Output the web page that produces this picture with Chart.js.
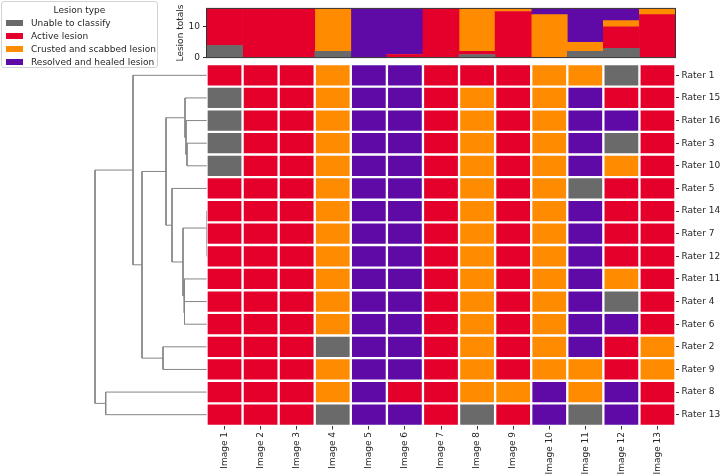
<!DOCTYPE html>
<html>
<head>
<meta charset="utf-8">
<script src="https://cdn.jsdelivr.net/npm/chart.js@4/dist/chart.umd.min.js"></script>
<style>
  html, body { margin: 0; padding: 0; background: #ffffff; overflow: hidden; }
  #wrap { position: relative; width: 720px; height: 474px; font-family: 'DejaVu Sans', sans-serif; }
  canvas { position: absolute; left: 0; top: 0; }
  #legend {
    position: absolute; left: 1px; top: 1px; width: 155px; height: 65px;
    border: 1px solid #d3d3d3; border-radius: 3px; background: rgba(255,255,255,0.85);
    font-size: 9px; color: #262626;
  }
  #legend .title { position: absolute; left: 0; width: 100%; top: 2px; text-align: center; line-height: 12px; }
  #legend .item { position: absolute; left: 0; height: 12px; line-height: 12px; white-space: nowrap; }
  #legend .sw { position: absolute; left: 4px; top: 3px; width: 17px; height: 6px; }
  #legend .tx { position: absolute; left: 29px; top: 0; }
</style>
</head>
<body>
<div id="wrap">
  <canvas id="dendro" width="215" height="474"></canvas>
  <canvas id="heat" width="720" height="474"></canvas>
  <canvas id="totals" width="720" height="66"></canvas>
  <div id="legend"></div>
</div>
<script>
// ---------------- data ----------------
const images = ['Image 1','Image 2','Image 3','Image 4','Image 5','Image 6','Image 7',
                'Image 8','Image 9','Image 10','Image 11','Image 12','Image 13'];
const raters = ['Rater 1','Rater 15','Rater 16','Rater 3','Rater 10','Rater 5','Rater 14','Rater 7',
                'Rater 12','Rater 11','Rater 4','Rater 6','Rater 2','Rater 9','Rater 8','Rater 13'];
const lesionTypes = ['Unable to classify','Active lesion','Crusted and scabbed lesion','Resolved and healed lesion'];
const typeColors = ['#6a6a6a','#e4002b','#ff8c00','#5f0aa6'];

// rating codes: 0 unable, 1 active, 2 crusted, 3 resolved (rows follow `raters`)
const ratings = [
  [1,1,1,2,3,3,1,1,1,2,2,0,1],
  [0,1,1,2,3,3,1,2,1,2,3,1,1],
  [0,1,1,2,3,3,1,2,1,2,3,3,1],
  [0,1,1,2,3,3,1,2,1,2,3,0,1],
  [0,1,1,2,3,3,1,2,1,2,3,2,1],
  [1,1,1,2,3,3,1,2,1,2,0,1,1],
  [1,1,1,2,3,3,1,2,1,2,3,1,1],
  [1,1,1,2,3,3,1,2,1,2,3,1,1],
  [1,1,1,2,3,3,1,2,1,2,3,1,1],
  [1,1,1,2,3,3,1,2,1,2,3,2,1],
  [1,1,1,2,3,3,1,2,1,2,3,0,1],
  [1,1,1,2,3,3,1,2,1,2,3,3,1],
  [1,1,1,0,3,3,1,2,1,2,3,1,2],
  [1,1,1,2,3,3,1,2,1,2,2,1,2],
  [1,1,1,2,3,1,1,2,2,3,2,3,1],
  [1,1,1,0,3,3,1,0,1,3,0,3,1]
];

// lesion totals per image
const totalsUnable   = [4,0,0,2,0,0,0,1,0,0,2,3,0];
const totalsActive   = [12,16,16,0,0,1,16,1,15,0,0,7,14];
const totalsCrusted  = [0,0,0,14,0,0,0,14,1,14,3,2,2];
const totalsResolved = [0,0,0,0,16,15,0,0,0,2,11,4,0];
const totalTicks = [0, 10];

// dendrogram linkage (leaf ids = row positions 0..15, cluster ids 16+)
const linkA      = [3, 2, 1, 7, 6, 10, 9, 20, 5, 18, 12, 25, 0, 14, 28];
const linkB      = [4, 16, 17, 8, 19, 11, 21, 22, 23, 24, 13, 26, 27, 15, 29];
const linkHeight = [0.20, 0.21, 0.22, 0.0, 0.003, 0.225, 0.23, 0.24, 0.35, 0.41, 0.44, 0.65, 0.74, 1.013, 1.12];

// ---------------- setup ----------------
Chart.defaults.font.family = "'DejaVu Sans', sans-serif";
Chart.defaults.font.size = 9;
Chart.defaults.color = '#262626';

// legend (HTML)
const lg = document.getElementById('legend');
lg.innerHTML = '<div class="title">Lesion type</div>' + lesionTypes.map((t, i) =>
  `<div class="item" style="top:${15 + i * 13.1}px"><span class="sw" style="background:${typeColors[i]}"></span><span class="tx">${t}</span></div>`
).join('');

// ---------------- dendrogram ----------------
const nodeY = [], nodeH = [];
raters.forEach((r, i) => { nodeY[i] = i + 0.5; nodeH[i] = 0; });
const dendroSets = [];
linkA.forEach((a, k) => {
  const b = linkB[k], h = linkHeight[k];
  dendroSets.push({
    data: [{x: nodeH[a], y: nodeY[a]}, {x: h, y: nodeY[a]}, {x: h, y: nodeY[b]}, {x: nodeH[b], y: nodeY[b]}],
    showLine: true, pointRadius: 0, borderColor: '#858585', borderWidth: 1, tension: 0, clip: false
  });
  nodeY[raters.length + k] = (nodeY[a] + nodeY[b]) / 2;
  nodeH[raters.length + k] = h;
});
new Chart(document.getElementById('dendro'), {
  type: 'scatter',
  data: { datasets: dendroSets },
  options: {
    responsive: false, animation: false, devicePixelRatio: 1,
    layout: { padding: { left: 0, right: 8, top: 64, bottom: 48 } },
    plugins: { legend: { display: false }, tooltip: { enabled: false } },
    scales: {
      x: { type: 'linear', min: 0, max: 2.07, reverse: true, display: false },
      y: { type: 'linear', min: 0, max: 16, reverse: true, display: false }
    }
  }
});

// ---------------- heatmap ----------------
new Chart(document.getElementById('heat'), {
  type: 'bar',
  data: {
    labels: images,
    datasets: raters.map((r, i) => ({
      label: r,
      data: images.map(() => 1),
      backgroundColor: ratings[i].map(c => typeColors[c]),
      borderColor: '#ffffff', borderWidth: 1.5, borderSkipped: false,
      barPercentage: 1, categoryPercentage: 1
    }))
  },
  options: {
    responsive: false, animation: false, devicePixelRatio: 1,
    layout: { padding: { left: 206.5, top: 64, right: 0, bottom: 0 } },
    plugins: { legend: { display: false }, tooltip: { enabled: false } },
    scales: {
      x: {
        stacked: true,
        grid: { display: true, drawOnChartArea: false, drawTicks: true, tickLength: 3.5, color: '#333333', offset: false },
        border: { display: false },
        ticks: { minRotation: 90, maxRotation: 90, padding: 2.5, autoSkip: false },
        afterFit: s => { s.height = 48; }
      },
      y: {
        stacked: true, position: 'right', min: 0, max: 16, reverse: true,
        afterBuildTicks: s => { s.ticks = raters.map((r, i) => ({ value: i + 0.5 })); },
        ticks: { callback: (v, i) => raters[i], padding: 2.5, autoSkip: false },
        grid: { display: true, drawOnChartArea: false, drawTicks: true, tickLength: 3.5, color: '#333333' },
        border: { display: false },
        afterFit: s => { s.width = 44.5; }
      }
    }
  }
});

// ---------------- totals (stacked bars) ----------------
const framePlugin = {
  id: 'frame',
  afterDraw(chart) {
    const {ctx, chartArea: a} = chart;
    ctx.save();
    ctx.strokeStyle = '#333333';
    ctx.lineWidth = 1;
    ctx.strokeRect(a.left, a.top, a.right - a.left, a.bottom - a.top);
    ctx.restore();
  }
};
const totalsSeries = [totalsUnable, totalsActive, totalsCrusted, totalsResolved];
new Chart(document.getElementById('totals'), {
  type: 'bar',
  data: {
    labels: images,
    datasets: totalsSeries.map((d, i) => ({
      label: lesionTypes[i], data: d, backgroundColor: typeColors[i],
      borderWidth: 0, barPercentage: 1, categoryPercentage: 1
    }))
  },
  options: {
    responsive: false, animation: false, devicePixelRatio: 1,
    layout: { padding: { left: 175.6, right: 44.5, top: 7.3, bottom: 6.7 } },
    plugins: { legend: { display: false }, tooltip: { enabled: false } },
    scales: {
      x: { stacked: true, display: false },
      y: {
        stacked: true, min: 0, max: 16,
        afterBuildTicks: s => { s.ticks = totalTicks.map(v => ({ value: v })); },
        ticks: { padding: 3 },
        grid: { display: true, drawOnChartArea: false, drawTicks: true, tickLength: 3.5, color: '#333333' },
        border: { display: false },
        title: { display: true, text: 'Lesion totals', padding: 0 },
        afterFit: s => { s.width = 30.9; }
      }
    }
  },
  plugins: [framePlugin]
});
</script>
</body>
</html>
